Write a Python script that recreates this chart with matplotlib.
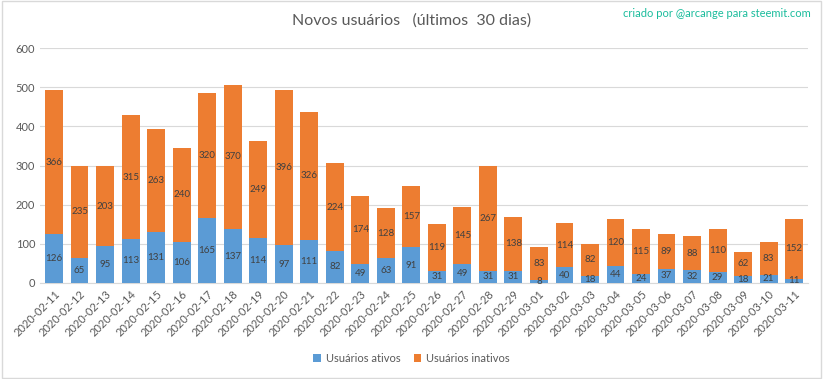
import matplotlib.pyplot as plt
import numpy as np

dates = ['2020-02-11', '2020-02-12', '2020-02-13', '2020-02-14', '2020-02-15',
         '2020-02-16', '2020-02-17', '2020-02-18', '2020-02-19', '2020-02-20',
         '2020-02-21', '2020-02-22', '2020-02-23', '2020-02-24', '2020-02-25',
         '2020-02-26', '2020-02-27', '2020-02-28', '2020-02-29', '2020-03-01',
         '2020-03-02', '2020-03-03', '2020-03-04', '2020-03-05', '2020-03-06',
         '2020-03-07', '2020-03-08', '2020-03-09', '2020-03-10', '2020-03-11']
ativos = [126, 65, 95, 113, 131, 106, 165, 137, 114, 97, 111, 82, 49, 63, 91,
          31, 49, 31, 31, 8, 40, 18, 44, 24, 37, 32, 29, 18, 21, 11]
inativos = [366, 235, 203, 315, 263, 240, 320, 370, 249, 396, 326, 224, 174, 128, 157,
            119, 145, 267, 138, 83, 114, 82, 120, 115, 89, 88, 110, 62, 83, 152]

plt.rcParams['font.family'] = ['Lato', 'DejaVu Sans']

fig = plt.figure(figsize=(8.23, 3.79), dpi=100)
ax = fig.add_axes([0.0486, 0.2533, 0.9334, 0.6197])

x = np.arange(len(dates))
b1 = ax.bar(x, ativos, width=0.7, color='#5B9BD5', label='Usuários ativos', zorder=3)
b2 = ax.bar(x, inativos, width=0.7, bottom=ativos, color='#ED7D31',
            label='Usuários inativos', zorder=3)
ax.bar_label(b1, label_type='center', fontsize=7, color='#404040')
ax.bar_label(b2, label_type='center', fontsize=7, color='#404040')

ax.set_ylim(0, 600)
ax.set_yticks(range(0, 601, 100))
ax.set_xlim(-0.55, len(dates) - 0.45)
ax.set_xticks(x)
ax.set_xticklabels(dates, rotation=45, ha='right', rotation_mode='anchor')
ax.tick_params(axis='both', length=0, labelsize=8, labelcolor='#595959')
ax.tick_params(axis='x', pad=4)
ax.grid(axis='y', color='#D9D9D9', linewidth=0.8, zorder=0)
for s in ['top', 'right', 'left']:
    ax.spines[s].set_visible(False)
ax.spines['bottom'].set_color('#D9D9D9')

fig.text(0.5, 0.945, 'Novos usuários   (últimos  30 dias)', ha='center', va='center',
         fontsize=11.5, color='#595959')
fig.text(0.985, 0.965, 'criado por @arcange para steemit.com', ha='right', va='center',
         fontsize=8, color='#1ABC9C')

fig.legend(loc='center', bbox_to_anchor=(0.5, 0.055), ncol=2, frameon=False,
           fontsize=8, handlelength=0.7, handleheight=0.7, columnspacing=1.2,
           handletextpad=0.4, labelcolor='#595959')

fig.patches.append(plt.Rectangle((0.002, 0.003), 0.996, 0.994, transform=fig.transFigure,
                                 fill=False, edgecolor='#D9D9D9', linewidth=1))

fig.savefig('out.png', dpi=100)
